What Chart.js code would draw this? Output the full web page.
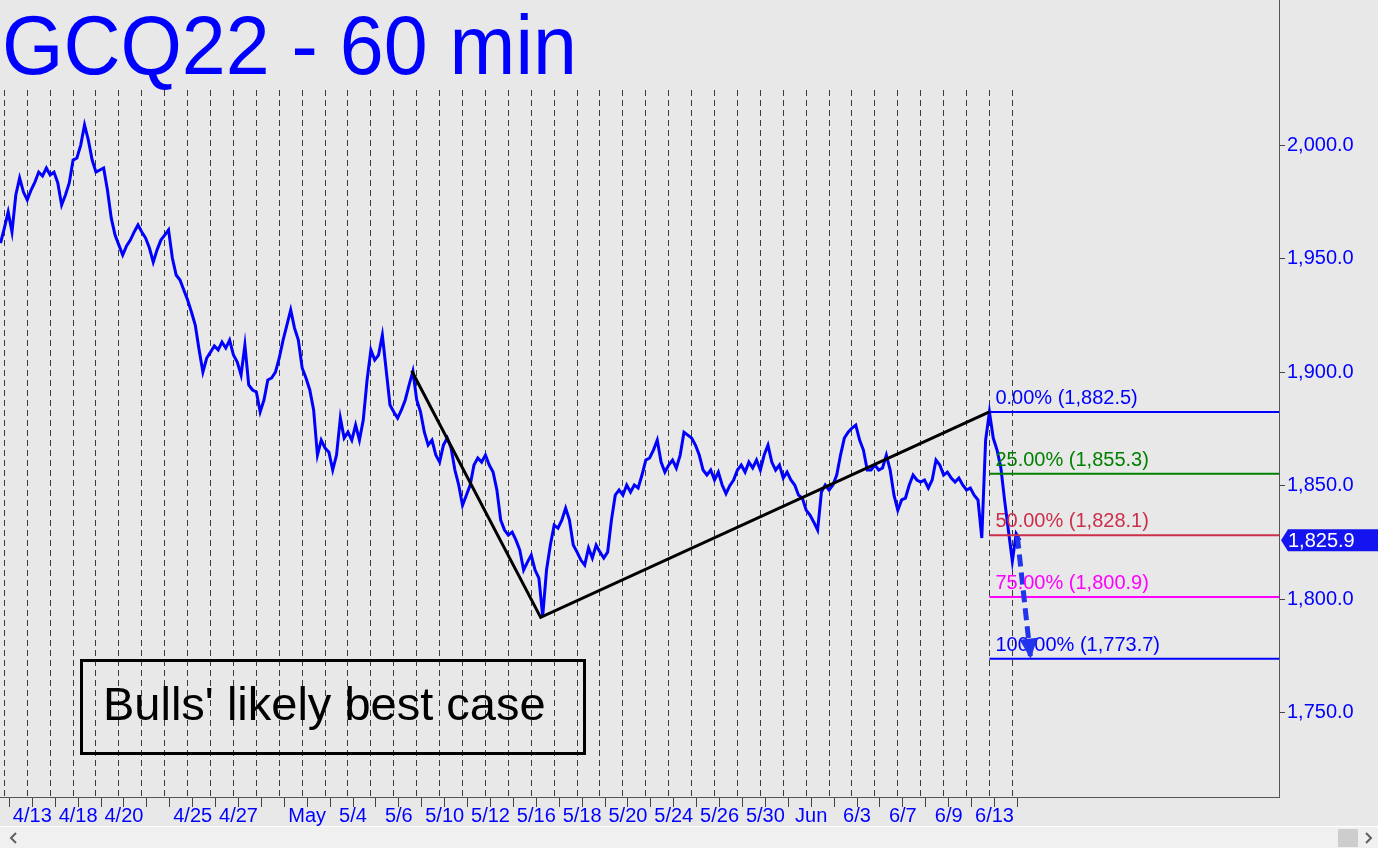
<!DOCTYPE html>
<html lang="en">
<head>
<meta charset="utf-8">
<title>GCQ22 - 60 min</title>
<script src="https://cdn.jsdelivr.net/npm/chart.js@4.4.1/dist/chart.umd.min.js"></script>
<style>
  html, body { margin: 0; padding: 0; background: #e8e8e8; overflow: hidden; }
  canvas { display: block; }
</style>
</head>
<body>
<canvas id="graficoOro" width="1378" height="848"></canvas>
<script>
const closesWeek0411 = [1957.0, 1963.6, 1970.7, 1961.9, 1978.2, 1985.7, 1979.5, 1976.0, 1980.4, 1983.9,
  1988.3, 1986.6, 1990.1, 1987.0, 1988.3, 1983.5, 1973.8, 1978.2, 1983.5];
const closesWeek0418 = [1993.6, 1994.5, 2000.2, 2009.1, 2002.4, 1993.6, 1988.3, 1989.2, 1990.1, 1980.4,
  1968.0, 1960.5, 1956.1, 1951.7, 1955.7, 1958.3, 1961.9, 1965.0, 1961.9, 1959.2,
  1954.8, 1948.6, 1954.0, 1958.3, 1960.5, 1962.8, 1950.4, 1942.9, 1940.7, 1936.3];
const closesWeek0425 = [1931.9, 1926.6, 1920.8, 1909.9, 1900.1, 1906.3, 1908.9, 1911.6, 1909.9, 1913.3,
  1910.7, 1914.2, 1907.6, 1904.5, 1898.8, 1912.0, 1894.4, 1892.2, 1891.3, 1882.5,
  1887.8, 1896.6, 1897.5, 1900.1, 1906.3, 1914.2, 1920.8, 1927.5, 1919.5, 1914.2];
const closesWeek0502 = [1901.9, 1897.5, 1892.2, 1883.4, 1863.5, 1870.1, 1866.6, 1864.8, 1856.9, 1863.5,
  1879.8, 1871.0, 1873.6, 1870.1, 1876.7, 1870.1, 1878.9, 1896.6, 1909.9, 1905.4,
  1907.6, 1916.4, 1901.0, 1885.6, 1882.5, 1879.8, 1883.4, 1887.8, 1894.4, 1900.5];
const closesWeek0509 = [1887.8, 1882.5, 1873.6, 1867.9, 1870.1, 1863.5, 1860.4, 1867.9, 1871.0, 1866.6,
  1856.9, 1850.3, 1841.4, 1845.8, 1850.3, 1859.1, 1862.2, 1860.4, 1863.5, 1859.1,
  1856.0, 1848.1, 1834.8, 1830.4, 1828.2, 1829.5, 1826.0, 1821.6, 1812.8, 1816.3];
const closesWeek0516 = [1819.4, 1812.8, 1809.2, 1792.5, 1812.8, 1823.8, 1832.6, 1831.3, 1834.8, 1840.1,
  1834.8, 1823.8, 1820.7, 1817.2, 1815.0, 1822.5, 1818.1, 1823.8, 1820.7, 1818.1,
  1820.7, 1834.8, 1845.8, 1848.1, 1845.8, 1850.3, 1847.2, 1850.3, 1849.0, 1854.7];
const closesWeek0523 = [1861.3, 1862.2, 1865.7, 1870.1, 1860.4, 1856.0, 1859.1, 1861.3, 1857.8, 1863.5,
  1873.6, 1872.3, 1871.0, 1867.9, 1863.5, 1856.9, 1854.7, 1856.9, 1852.5, 1856.0,
  1850.3, 1846.5, 1850.0, 1852.5, 1856.9, 1859.1, 1856.0, 1860.4, 1857.8, 1861.3];
const closesWeek0530 = [1856.9, 1863.5, 1867.9, 1860.4, 1856.9, 1859.1, 1853.4, 1856.0, 1852.5, 1850.3,
  1845.8, 1844.5, 1839.2, 1837.0, 1833.9, 1830.4, 1847.2, 1850.3, 1848.1, 1850.3,
  1854.7, 1863.5, 1871.0, 1873.6, 1875.4, 1876.7, 1870.1, 1865.7, 1856.9, 1856.9];
const closesWeek0606 = [1859.1, 1856.9, 1857.8, 1863.5, 1856.9, 1845.8, 1839.2, 1843.7, 1844.5, 1850.3,
  1854.7, 1852.5, 1851.6, 1852.5, 1849.0, 1852.5, 1861.3, 1859.1, 1854.7, 1856.0,
  1853.4, 1851.6, 1853.4, 1850.3, 1848.1, 1849.0, 1845.8, 1843.7, 1826.9, 1870.1];
const closesWeek0613 = [1882.5, 1871.0, 1865.7, 1857.8, 1843.2, 1829.9, 1816.7, 1828.8, 1825.9];

const closes = [].concat(closesWeek0411, closesWeek0418, closesWeek0425, closesWeek0502, closesWeek0509,
  closesWeek0516, closesWeek0523, closesWeek0530, closesWeek0606, closesWeek0613);
const samplesPerSession = 6;
const firstSampleSession = -1 / 6;   // último tramo de la sesión del 4/11

// Sesiones (la línea punteada marca la apertura de cada una)
const sessionDates = ['4/12', '4/13', '4/14', '4/18', '4/19', '4/20', '4/21', '4/22', '4/25', '4/26',
  '4/27', '4/28', '4/29', '5/2', '5/3', '5/4', '5/5', '5/6', '5/9', '5/10',
  '5/11', '5/12', '5/13', '5/16', '5/17', '5/18', '5/19', '5/20', '5/23', '5/24',
  '5/25', '5/26', '5/27', '5/30', '5/31', '6/1', '6/2', '6/3', '6/6', '6/7',
  '6/8', '6/9', '6/10', '6/13', '6/14'];
const labeledDates = ['4/13', '4/18', '4/20', '4/25', '4/27', '5/2', '5/4', '5/6', '5/10', '5/12',
  '5/16', '5/18', '5/20', '5/24', '5/26', '5/30', '6/1', '6/3', '6/7', '6/9', '6/13'];
const monthNames = { '5/2': 'May', '6/1': 'Jun' };
const midnightOffset = 0.22;   // medianoche dentro de la sesión

const yTickValues = [1750, 1800, 1850, 1900, 1950, 2000];

// Retrocesos / objetivos
const fibLevels = [0, 25, 50, 75, 100];
const fibPrices = [1882.5, 1855.3, 1828.1, 1800.9, 1773.7];
const fibColors = ['#0000ff', '#008000', '#cc2f4a', '#ff00ff', '#0000ff'];
const fibStartSession = 43;

// Patrón ABC (pivotes)
const pivotSessions = [17.78, 23.41, 43.0];
const pivotPrices = [1900.7, 1791.9, 1882.5];

// Flecha de objetivo
const arrowSessions = [44.22, 44.80];
const arrowPrices = [1827.5, 1773.7];

const xMin = -0.19, xMax = 55.64;
const yMin = 1712.7, yMax = 2024.5;
const fuente = 'Arial, "Liberation Sans", Helvetica, sans-serif';

const fmtPrecio = v => v.toLocaleString('en-US', { minimumFractionDigits: 1, maximumFractionDigits: 1 });

const puntosPrecio = closes.map((v, i) => ({ x: firstSampleSession + i / samplesPerSession, y: v }));
const puntosPatron = pivotSessions.map((s, i) => ({ x: s, y: pivotPrices[i] }));
const puntosFlecha = arrowSessions.map((s, i) => ({ x: s, y: arrowPrices[i] }));

const datasetsFib = fibPrices.map((p, i) => ({
  data: [{ x: fibStartSession, y: p }, { x: xMax, y: p }],
  borderColor: fibColors[i],
  borderWidth: 2,
  pointRadius: 0
}));

const decoracion = {
  id: 'decoracion',
  beforeDraw(chart) {
    const c = chart.ctx;
    c.save();
    c.fillStyle = '#e8e8e8';
    c.fillRect(0, 0, chart.width, chart.height);
    c.restore();
  },
  afterDatasetsDraw(chart) {
    const c = chart.ctx;
    const sx = chart.scales.x, sy = chart.scales.y;
    c.save();
    // etiquetas de los niveles
    c.font = '20px ' + fuente;
    c.textBaseline = 'alphabetic';
    fibPrices.forEach((p, i) => {
      c.fillStyle = fibColors[i];
      c.fillText(fibLevels[i].toFixed(2) + '% (' + fmtPrecio(p) + ')',
        sx.getPixelForValue(fibStartSession) + 6, sy.getPixelForValue(p) - 8);
    });
    // punta de la flecha
    const x0 = sx.getPixelForValue(arrowSessions[0]), y0 = sy.getPixelForValue(arrowPrices[0]);
    const x1 = sx.getPixelForValue(arrowSessions[1]), y1 = sy.getPixelForValue(arrowPrices[1]);
    const ang = Math.atan2(y1 - y0, x1 - x0);
    const largo = 20, ancho = 9;
    c.fillStyle = '#2233ee';
    c.beginPath();
    c.moveTo(x1, y1);
    c.lineTo(x1 - largo * Math.cos(ang) + ancho * Math.sin(ang), y1 - largo * Math.sin(ang) - ancho * Math.cos(ang));
    c.lineTo(x1 - largo * Math.cos(ang) - ancho * Math.sin(ang), y1 - largo * Math.sin(ang) + ancho * Math.cos(ang));
    c.closePath();
    c.fill();
    c.restore();
  },
  afterDraw(chart) {
    const c = chart.ctx;
    const sy = chart.scales.y;
    const area = chart.chartArea;
    c.save();
    // eje derecho hasta arriba
    c.strokeStyle = '#555';
    c.lineWidth = 1;
    c.beginPath();
    c.moveTo(area.right + 0.5, 0);
    c.lineTo(area.right + 0.5, area.top);
    c.stroke();

    // título
    c.fillStyle = '#0000ff';
    c.font = '84px ' + fuente;
    c.textBaseline = 'alphabetic';
    c.translate(2, 74);
    c.scale(0.94, 1);
    c.fillText('GCQ22 - 60 min', 0, 0);
    c.setTransform(1, 0, 0, 1, 0, 0);

    // recuadro de comentario
    c.strokeStyle = '#000';
    c.lineWidth = 3;
    c.strokeRect(81.5, 660.5, 503, 93);
    c.fillStyle = '#000';
    c.font = '47px ' + fuente;
    c.fillText("Bulls' likely best case", 103, 720);

    // precio actual
    const ultimo = closes[closes.length - 1];
    const yp = sy.getPixelForValue(ultimo);
    c.fillStyle = '#1414f0';
    c.beginPath();
    c.moveTo(area.right + 2, yp);
    c.lineTo(area.right + 9, yp - 11);
    c.lineTo(chart.width, yp - 11);
    c.lineTo(chart.width, yp + 11);
    c.lineTo(area.right + 9, yp + 11);
    c.closePath();
    c.fill();
    c.fillStyle = '#fff';
    c.font = '20px ' + fuente;
    c.textBaseline = 'middle';
    c.fillText(fmtPrecio(ultimo), area.right + 9, yp + 1);

    // barra de desplazamiento
    c.fillStyle = '#ffffff';
    c.fillRect(0, 826, chart.width, 1);
    c.fillStyle = '#f0f0f0';
    c.fillRect(0, 827, chart.width, chart.height - 827);
    c.fillStyle = '#cdcdcd';
    c.fillRect(1338, 829, 20, 18);
    c.strokeStyle = '#606060';
    c.lineWidth = 2;
    c.beginPath();
    c.moveTo(16, 833); c.lineTo(11, 838); c.lineTo(16, 843);
    c.moveTo(1366, 833); c.lineTo(1371, 838); c.lineTo(1366, 843);
    c.stroke();
    c.restore();
  }
};

const ctx = document.getElementById('graficoOro').getContext('2d');
new Chart(ctx, {
  type: 'line',
  data: {
    datasets: [
      {
        data: puntosFlecha,
        borderColor: '#2233ee',
        borderWidth: 5,
        borderDash: [12, 6],
        pointRadius: 0
      },
      {
        data: puntosPatron,
        borderColor: '#000000',
        borderWidth: 3,
        pointRadius: 0
      },
      ...datasetsFib,
      {
        data: puntosPrecio,
        borderColor: '#0000ff',
        borderWidth: 3,
        pointRadius: 0,
        tension: 0
      }
    ]
  },
  options: {
    responsive: false,
    animation: false,
    devicePixelRatio: 1,
    layout: { padding: { top: 90, left: 0, right: 0, bottom: 0 } },
    plugins: {
      legend: { display: false },
      tooltip: { enabled: false }
    },
    scales: {
      x: {
        type: 'linear',
        position: 'bottom',
        min: xMin,
        max: xMax,
        afterBuildTicks: s => { s.ticks = sessionDates.map((d, k) => ({ value: k + midnightOffset })); },
        ticks: {
          autoSkip: false,
          maxRotation: 0,
          color: '#0000ff',
          font: { family: fuente, size: 20 },
          padding: -3,
          callback: (v, i) => {
            const d = sessionDates[i];
            if (!labeledDates.includes(d)) return '';
            return monthNames[d] || d;
          }
        },
        grid: { drawOnChartArea: false, drawTicks: true, tickLength: 10, color: '#444' },
        border: { display: true, color: '#555' },
        afterFit: s => { s.height = 51; }
      },
      xSesiones: {
        type: 'linear',
        position: 'top',
        min: xMin,
        max: xMax,
        afterBuildTicks: s => { s.ticks = sessionDates.map((d, k) => ({ value: k })); },
        ticks: { display: false },
        grid: { drawTicks: false, color: '#3a3a3a', lineWidth: 1 },
        border: { display: false, dash: [6, 4] },
        afterFit: s => { s.height = 0; }
      },
      y: {
        position: 'right',
        min: yMin,
        max: yMax,
        afterBuildTicks: s => { s.ticks = yTickValues.map(v => ({ value: v })); },
        ticks: {
          color: '#0000ff',
          font: { family: fuente, size: 20 },
          padding: 2,
          callback: v => fmtPrecio(v)
        },
        grid: { drawOnChartArea: false, tickLength: 6, color: '#444' },
        border: { color: '#555' },
        afterFit: s => { s.width = 99; }
      }
    }
  },
  plugins: [decoracion]
});
</script>
</body>
</html>
